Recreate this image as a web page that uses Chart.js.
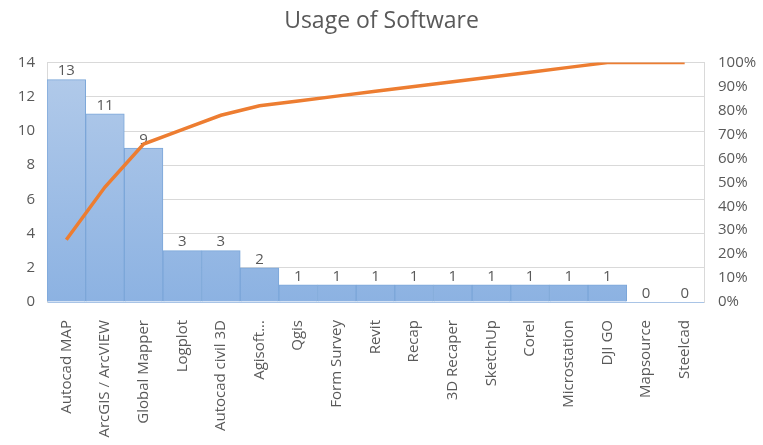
<!DOCTYPE html>
<html>
<head>
<meta charset="utf-8">
<script src="https://cdn.jsdelivr.net/npm/chart.js@4.4.1/dist/chart.umd.min.js"></script>
<style>
  html, body { margin: 0; padding: 0; background: #fff; }
  #wrap { width: 763px; height: 445px; }
</style>
</head>
<body>
<div id="wrap"><canvas id="myChart"></canvas></div>
<script>
const software = ['Autocad MAP', 'ArcGIS / ArcVIEW', 'Global Mapper', 'Logplot', 'Autocad civil 3D', 'Agisoft...',
  'Qgis', 'Form Survey', 'Revit', 'Recap', '3D Recaper', 'SketchUp', 'Corel', 'Microstation', 'DJI GO', 'Mapsource', 'Steelcad']
const usage = [13, 11, 9, 3, 3, 2, 1, 1, 1, 1, 1, 1, 1, 1, 1, 0, 0]
const cumulative = [0.26, 0.48, 0.66, 0.72, 0.78, 0.82, 0.84, 0.86, 0.88, 0.90, 0.92, 0.94, 0.96, 0.98, 1.00, 1.00, 1.00]

const grey = '#595959'
const fontFam = '"Open Sans", "Segoe UI", sans-serif'

// labels on top of the bars, drawn before the line so the line sits over them
const barLabels = {
  id: 'barLabels',
  afterDatasetDraw(chart, args) {
    if (args.meta.type !== 'bar') return
    const c = chart.ctx
    c.save()
    c.font = '15px ' + fontFam
    c.fillStyle = grey
    c.textAlign = 'center'
    c.textBaseline = 'bottom'
    args.meta.data.forEach((bar, i) => {
      c.fillText(usage[i], bar.x, bar.y - 1)
    })
    c.restore()
  }
}

function barFill(context) {
  const area = context.chart.chartArea
  if (!area) return '#9dbde6'
  const g = context.chart.ctx.createLinearGradient(0, area.top, 0, area.bottom)
  g.addColorStop(0, '#b3cbea')
  g.addColorStop(1, '#8cb2e2')
  return g
}

const ctx = document.getElementById('myChart')
const myChart = new Chart(ctx, {
  data: {
    labels: software,
    datasets: [{
      type: 'line',
      label: 'Cumulative',
      data: cumulative,
      yAxisID: 'y2',
      borderColor: '#ed7d31',
      borderWidth: 3.5,
      pointRadius: 0,
      tension: 0,
      order: 0
    }, {
      type: 'bar',
      label: 'Usage',
      data: usage,
      yAxisID: 'y',
      backgroundColor: barFill,
      borderColor: '#7ba6d9',
      borderWidth: 1,
      barPercentage: 1,
      categoryPercentage: 1,
      order: 1
    }]
  },
  options: {
    responsive: true,
    maintainAspectRatio: false,
    animation: false,
    layout: { padding: 0 },
    plugins: {
      legend: { display: false },
      tooltip: { enabled: false },
      title: {
        display: true,
        text: 'Usage of Software',
        color: grey,
        font: { family: fontFam, size: 23, weight: 'normal' },
        padding: { top: 8, bottom: 27 }
      }
    },
    scales: {
      x: {
        offset: true,
        grid: { display: false },
        border: { color: '#a9c4e6' },
        ticks: {
          color: grey,
          font: { family: fontFam, size: 15 },
          minRotation: 90,
          maxRotation: 90,
          autoSkip: false,
          padding: 10
        },
        afterFit(scale) { scale.height = 143 }
      },
      y: {
        position: 'left',
        min: 0,
        max: 14,
        ticks: {
          stepSize: 2,
          color: grey,
          font: { family: fontFam, size: 15 },
          padding: 12
        },
        grid: { color: '#d9d9d9', drawTicks: false },
        border: { color: '#d9d9d9' },
        afterFit(scale) { scale.width = 47 }
      },
      y2: {
        position: 'right',
        min: 0,
        max: 1,
        ticks: {
          stepSize: 0.1,
          color: grey,
          font: { family: fontFam, size: 15 },
          padding: 14,
          callback: v => Math.round(v * 100) + '%'
        },
        grid: { display: false, drawTicks: false },
        border: { color: '#d9d9d9' },
        afterFit(scale) { scale.width = 59 }
      }
    }
  },
  plugins: [barLabels]
})
</script>
</body>
</html>
